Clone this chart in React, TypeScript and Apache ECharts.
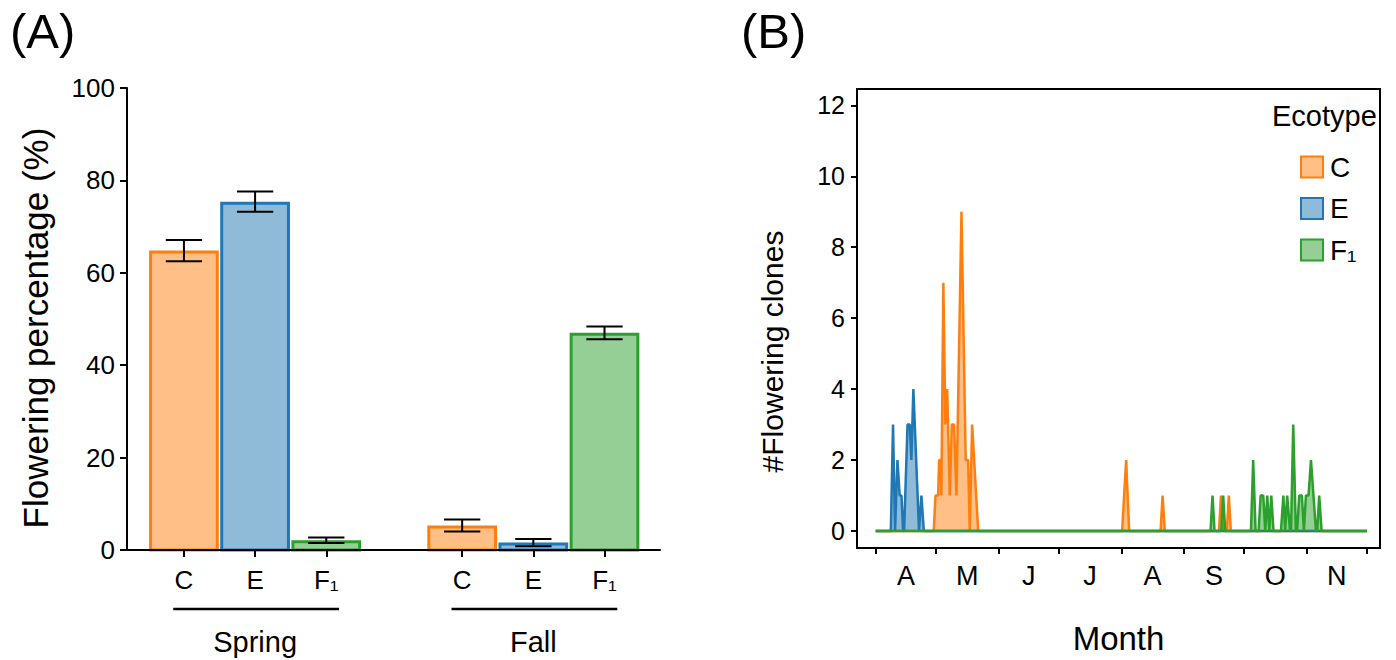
import React, { useEffect, useRef } from 'react';
import * as echarts from 'echarts';

const FONT = '"Liberation Sans", Arial, Helvetica, sans-serif';

// ---------- Panel A data ----------
const ecotypes = ['C', 'E', 'F₁'];
const seasons = ['Spring', 'Fall'];
const springMean = [64.8, 75.4, 2.1];
const springErr = [2.3, 2.2, 0.6];
const fallMean = [5.3, 1.6, 47.0];
const fallErr = [1.3, 0.8, 1.4];
const yTicksA = [0, 20, 40, 60, 80, 100];

// ---------- Panel B data ----------
const monthLabels = ['A', 'M', 'J', 'J', 'A', 'S', 'O', 'N'];
const monthStartDays = [0, 30, 61, 91, 122, 153, 183, 214, 244];
const yTicksB = [0, 2, 4, 6, 8, 10, 12];
// [day since 1 April, number of flowering clones]
const clonesC = [
  [0, 0], [28.8, 0], [29.7, 1], [31.0, 1], [31.5, 2], [32.3, 2], [32.6, 1], [33.6, 7], [34.6, 3], [35.5, 4],
  [36.8, 1], [37.8, 3], [38.9, 3], [40.1, 1], [42.6, 9], [44.7, 2], [45.9, 2], [46.7, 0], [47.9, 3], [50.9, 0],
  [122.4, 0], [124.4, 2], [125.9, 0], [141.5, 0], [142.5, 1], [143.6, 0], [170.5, 0], [171.5, 1], [172.5, 0],
  [174.4, 0], [175.4, 1], [176.4, 0], [244, 0],
];
const clonesE = [
  [0, 0], [7.5, 0], [8.6, 3], [9.6, 0], [10.8, 2], [11.9, 1], [12.8, 1], [13.6, 0], [14.1, 0], [15.8, 3],
  [16.9, 3], [17.7, 2], [18.7, 4], [21.5, 0], [22.7, 1], [23.9, 0], [244, 0],
];
const clonesF1 = [
  [0, 0], [166.3, 0], [167.3, 1], [168.3, 0], [171.6, 0], [172.6, 1], [173.6, 0], [186.4, 0], [187.5, 2],
  [188.7, 0], [190.2, 0], [191.2, 1], [192.5, 1], [193.5, 0], [194.5, 1], [195.5, 0], [196.5, 1], [197.6, 0],
  [201.3, 0], [202.5, 1], [203.4, 0], [204.4, 1], [205.8, 0], [206.3, 0], [207.4, 3], [208.7, 0], [209.3, 0],
  [210.4, 1], [211.7, 1], [212.7, 0], [213.7, 1], [215.0, 1], [216.2, 2], [218.7, 0], [219.3, 0], [220.3, 1],
  [221.5, 0], [244, 0],
];

// ---------- styling / layout ----------
const strokeColors = ['#ff7f0e', '#1f77b4', '#2ca02c'];
const fillColors = ['#ffbf86', '#8fbbd9', '#95cf95'];
const barSlots = [0, 1, 2, 3.91, 4.91, 5.91];
const monthMids = monthStartDays.slice(0, -1).map((d, i) => (d + monthStartDays[i + 1]) / 2);

const nearestIndex = (arr: number[], v: number) => {
  let best = 0;
  for (let i = 1; i < arr.length; i++) if (Math.abs(arr[i] - v) < Math.abs(arr[best] - v)) best = i;
  return best;
};

export default function App() {
  const ref = useRef<HTMLDivElement>(null);
  useEffect(() => {
    if (!ref.current) return;
    const chart = echarts.init(ref.current, null, { renderer: 'svg' });

    const barRows: number[][] = [];
    seasons.forEach((_, gi) => {
      ecotypes.forEach((__, ei) => {
        const m = gi === 0 ? springMean[ei] : fallMean[ei];
        const e = gi === 0 ? springErr[ei] : fallErr[ei];
        barRows.push([barSlots[gi * 3 + ei], m, e, ei]);
      });
    });
    const groupRows = seasons.map((_, gi) => [barSlots[gi * 3] - 0.15, 0, barSlots[gi * 3 + 2] + 0.18, barSlots[gi * 3 + 1], gi]);

    const axisLine = { show: true, onZero: false, lineStyle: { color: '#000', width: 2 } };
    const tickStyle = { color: '#000', width: 2 };

    const lineSeries = (name: string, data: number[][], k: number) => ({
      type: 'line',
      name,
      data,
      xAxisIndex: 1,
      yAxisIndex: 1,
      symbol: 'none',
      showSymbol: false,
      lineStyle: { color: strokeColors[k], width: 2.5 },
      itemStyle: { color: strokeColors[k] },
      areaStyle: { color: strokeColors[k], opacity: 0.5 },
      z: 2 + k,
    });

    chart.setOption({
      animation: false,
      textStyle: { fontFamily: FONT, color: '#000' },
      title: [
        { text: '(A)', left: 5, top: 1, textStyle: { fontSize: 49, fontWeight: 'normal', fontFamily: FONT, color: '#000' } },
        { text: '(B)', left: 736, top: 1, textStyle: { fontSize: 49, fontWeight: 'normal', fontFamily: FONT, color: '#000' } },
        { text: 'Ecotype', left: 1267, top: 96, textStyle: { fontSize: 29, fontWeight: 'normal', fontFamily: FONT, color: '#000' } },
      ],
      legend: {
        orient: 'vertical',
        left: 1295,
        top: 148,
        itemWidth: 22,
        itemHeight: 21,
        itemGap: 13.5,
        selectedMode: false,
        data: ecotypes.map((e, k) => ({
          name: e,
          icon: 'rect',
          itemStyle: { color: fillColors[k], borderColor: strokeColors[k], borderWidth: 2 },
        })),
        textStyle: { fontSize: 28, color: '#000', fontFamily: FONT, padding: [0, 0, 0, 2] },
      },
      grid: [
        { left: 127, top: 88, width: 533, height: 462, containLabel: false, outerBoundsMode: 'none' },
        {
          left: 857, top: 89, width: 523, height: 459, containLabel: false, outerBoundsMode: 'none',
          show: true, borderColor: '#000', borderWidth: 2, backgroundColor: 'transparent',
        },
      ],
      xAxis: [
        {
          type: 'value', gridIndex: 0, min: -0.8, max: 6.69, z: 5,
          axisLine, splitLine: { show: false },
          axisTick: { show: true, length: 7, lineStyle: tickStyle, customValues: barSlots },
          axisLabel: {
            show: true, customValues: barSlots, fontSize: 26, color: '#000', fontFamily: FONT, margin: 17,
            formatter: (v: number) => ecotypes[nearestIndex(barSlots, v) % 3],
          },
        },
        {
          type: 'value', gridIndex: 1, min: -9.3, max: 250.5, z: 5,
          axisLine, splitLine: { show: false },
          axisTick: { show: true, length: 6, lineStyle: tickStyle, customValues: monthStartDays },
          axisLabel: {
            show: true, customValues: monthMids, fontSize: 27, color: '#000', fontFamily: FONT, margin: 14,
            formatter: (v: number) => monthLabels[nearestIndex(monthMids, v)],
          },
          name: 'Month', nameLocation: 'middle', nameGap: 74,
          nameTextStyle: { fontSize: 33, color: '#000', fontFamily: FONT },
        },
      ],
      yAxis: [
        {
          type: 'value', gridIndex: 0, min: 0, max: 100, interval: 20, z: 5,
          axisLine, splitLine: { show: false },
          axisTick: { show: true, length: 7, lineStyle: tickStyle, customValues: yTicksA },
          axisLabel: { show: true, customValues: yTicksA, fontSize: 26, color: '#000', fontFamily: FONT, margin: 12 },
          name: 'Flowering percentage (%)', nameLocation: 'middle', nameGap: 74,
          nameTextStyle: { fontSize: 35, color: '#000', fontFamily: FONT, padding: [0, 18, 0, 0] },
        },
        {
          type: 'value', gridIndex: 1, min: -0.48, max: 12.46, z: 5,
          axisLine, splitLine: { show: false },
          axisTick: { show: true, length: 6, lineStyle: tickStyle, customValues: yTicksB },
          axisLabel: { show: true, customValues: yTicksB, fontSize: 25, color: '#000', fontFamily: FONT, margin: 12 },
          name: '#Flowering clones', nameLocation: 'middle', nameGap: 70,
          nameTextStyle: { fontSize: 30, color: '#000', fontFamily: FONT, padding: [0, 66, 0, 0] },
        },
      ],
      series: [
        {
          type: 'custom',
          name: 'bars',
          xAxisIndex: 0,
          yAxisIndex: 0,
          data: barRows,
          encode: { x: 0, y: 1 },
          renderItem: (params: any, api: any) => {
            const x = api.value(0);
            const m = api.value(1);
            const e = api.value(2);
            const k = api.value(3);
            const tl = api.coord([x - 0.49, m]);
            const br = api.coord([x + 0.49, 0]);
            const top = api.coord([x, m + e]);
            const bot = api.coord([x, m - e]);
            const unit = (br[0] - tl[0]) / 0.98;
            const half = 0.255 * unit;
            const ls = { stroke: '#000', lineWidth: 2 };
            return {
              type: 'group',
              children: [
                {
                  type: 'rect',
                  shape: { x: tl[0] + 1.5, y: tl[1] + 1.5, width: br[0] - tl[0] - 3, height: Math.max(br[1] - tl[1] - 1.5, 0) },
                  style: { fill: fillColors[k], stroke: strokeColors[k], lineWidth: 3 },
                },
                { type: 'line', shape: { x1: top[0], y1: top[1], x2: bot[0], y2: bot[1] }, style: ls },
                { type: 'line', shape: { x1: top[0] - half, y1: top[1], x2: top[0] + half, y2: top[1] }, style: ls },
                { type: 'line', shape: { x1: bot[0] - half, y1: bot[1], x2: bot[0] + half, y2: bot[1] }, style: ls },
              ],
            };
          },
        },
        {
          type: 'custom',
          name: 'groups',
          xAxisIndex: 0,
          yAxisIndex: 0,
          clip: false,
          silent: true,
          data: groupRows,
          encode: { x: 0, y: 1 },
          renderItem: (params: any, api: any) => {
            const a = api.coord([api.value(0), 0]);
            const b = api.coord([api.value(2), 0]);
            const c = api.coord([api.value(3), 0]);
            const gi = api.value(4);
            return {
              type: 'group',
              children: [
                { type: 'line', shape: { x1: a[0], y1: a[1] + 59, x2: b[0], y2: b[1] + 59 }, style: { stroke: '#000', lineWidth: 2.5 } },
                {
                  type: 'text',
                  x: c[0],
                  y: c[1] + 92,
                  style: { text: seasons[gi], fontSize: 29, fontFamily: FONT, fill: '#000', align: 'center', verticalAlign: 'middle' },
                },
              ],
            };
          },
        },
        lineSeries('E', clonesE, 1),
        lineSeries('C', clonesC, 0),
        lineSeries('F₁', clonesF1, 2),
      ],
    });
    return () => chart.dispose();
  }, []);
  return <div ref={ref} style={{ position: 'fixed', left: 0, top: 0, width: 1396, height: 660, background: '#fff' }} />;
}
